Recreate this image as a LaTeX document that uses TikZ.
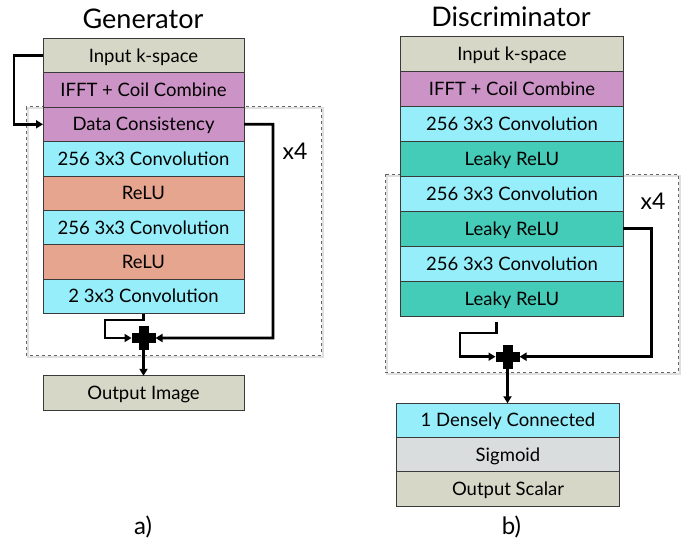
\documentclass[tikz,border=0pt]{standalone}
\usepackage{fontspec}
\setmainfont{Lato}
\usetikzlibrary{arrows.meta,positioning}
\definecolor{cinput}{HTML}{D7D7C7}
\definecolor{cpurple}{HTML}{CC93C6}
\definecolor{ccyan}{HTML}{95EEF9}
\definecolor{csalmon}{HTML}{E6A58E}
\definecolor{cteal}{HTML}{44CCB8}
\definecolor{csig}{HTML}{D9DDDD}
\definecolor{cedge}{HTML}{3A3A3A}
\tikzset{
  layer/.style={draw=cedge, line width=0.8pt, inner sep=0pt, outer sep=0pt,
    text height=13pt, text depth=0pt, font=\fontsize{18.5}{21}\selectfont},
  glayer/.style={layer, minimum width=201pt, minimum height=34.4pt},
  dlayer/.style={layer, minimum width=222.6pt, minimum height=35pt},
  olayer/.style={layer, minimum width=222.3pt, minimum height=34.2pt},
  repeatbox/.style={draw=gray!80!black, dashed, line width=0.8pt},
  repeatshadow/.style={draw=gray!25, line width=2pt},
  conn/.style={draw=black, line width=2.8pt},
  arr/.style={conn, -{Triangle[length=7pt,width=8pt]}},
  plusnode/.style={minimum size=24pt, inner sep=0pt, outer sep=0pt},
  title/.style={font=\fontsize{27}{30}\selectfont},
  sublabel/.style={font=\fontsize{24}{28}\selectfont},
  rep/.style={font=\fontsize{23}{26}\selectfont},
}
\newcommand{\pluscross}[1]{%
  \fill[black] ([xshift=-12pt,yshift=-5pt]#1.center) rectangle ([xshift=12pt,yshift=5pt]#1.center);
  \fill[black] ([xshift=-5pt,yshift=-12pt]#1.center) rectangle ([xshift=5pt,yshift=12pt]#1.center);}
\begin{document}
\begin{tikzpicture}[x=1pt,y=-1pt]
\useasboundingbox (0,0) rectangle (684,543);

% ---------------- Generator ----------------
\node[title] (gtitle) at (143,19) {Generator};
\draw[repeatshadow] (27.5,108.2) rectangle (322.5,356.5);
\draw[repeatbox] (26,106.7) rectangle (321,355);
\node[rep] (gx4) at (295,151) {x4};

\node[glayer, fill=cinput]  (g1) at (143.5,55.5) {Input k-space};
\node[glayer, fill=cpurple, anchor=north] (g2) at (g1.south) {IFFT + Coil Combine};
\node[glayer, fill=cpurple, anchor=north] (g3) at (g2.south) {Data Consistency};
\node[glayer, fill=ccyan,   anchor=north] (g4) at (g3.south) {256 3x3 Convolution};
\node[glayer, fill=csalmon, anchor=north] (g5) at (g4.south) {ReLU};
\node[glayer, fill=ccyan,   anchor=north] (g6) at (g5.south) {256 3x3 Convolution};
\node[glayer, fill=csalmon, anchor=north] (g7) at (g6.south) {ReLU};
\node[glayer, fill=ccyan,   anchor=north] (g8) at (g7.south) {2 3x3 Convolution};
\node[glayer, fill=cinput]  (gout) at (143.5,393) {Output Image};

\node[plusnode] (gp) at (143.5,338) {};
\pluscross{gp}

% k-space feeds the data-consistency layer
\draw[arr] (g1.west) -- (14,55.5) |- (g3.west);
% skip connection around the block
\draw[arr] (g3.east) -- (273,124.3) |- (gp.east);
% block output into the sum
\draw[arr] (g8.south) -- (143.5,320) -| (105,338) -- (gp.west);
\draw[arr] (gp.center) -- (gout.north);

\node[sublabel] (ga) at (143,527) {a)};

% ---------------- Discriminator ----------------
\node[title] (dtitle) at (511,17) {Discriminator};
\draw[repeatshadow] (386.5,175.8) rectangle (679.5,373.8);
\draw[repeatbox] (385,174.3) rectangle (678,372.3);
\node[rep] (dx4) at (653,201) {x4};

\node[dlayer, fill=cinput]  (d1) at (512,53.5) {Input k-space};
\node[dlayer, fill=cpurple, anchor=north] (d2) at (d1.south) {IFFT + Coil Combine};
\node[dlayer, fill=ccyan,   anchor=north] (d3) at (d2.south) {256 3x3 Convolution};
\node[dlayer, fill=cteal,   anchor=north] (d4) at (d3.south) {Leaky ReLU};
\node[dlayer, fill=ccyan,   anchor=north] (d5) at (d4.south) {256 3x3 Convolution};
\node[dlayer, fill=cteal,   anchor=north] (d6) at (d5.south) {Leaky ReLU};
\node[dlayer, fill=ccyan,   anchor=north] (d7) at (d6.south) {256 3x3 Convolution};
\node[dlayer, fill=cteal,   anchor=north] (d8) at (d7.south) {Leaky ReLU};

\node[olayer, fill=ccyan]  (o1) at (508,420.4) {1 Densely Connected};
\node[olayer, fill=csig,  anchor=north] (o2) at (o1.south) {Sigmoid};
\node[olayer, fill=cinput, anchor=north] (o3) at (o2.south) {Output Scalar};

\node[plusnode] (dp) at (507.5,356.7) {};
\pluscross{dp}

\coordinate (dstart) at (496.7,322);
\draw[arr] (d6.east) -- (651.7,228.5) |- (dp.east);
\draw[arr] (dstart) -- (496.7,333) -| (460,356.7) -- (dp.west);
\draw[arr] (dp.center) -- (o1.north -| dp.center);

\node[sublabel] (db) at (511.5,527) {b)};
\end{tikzpicture}
\end{document}
